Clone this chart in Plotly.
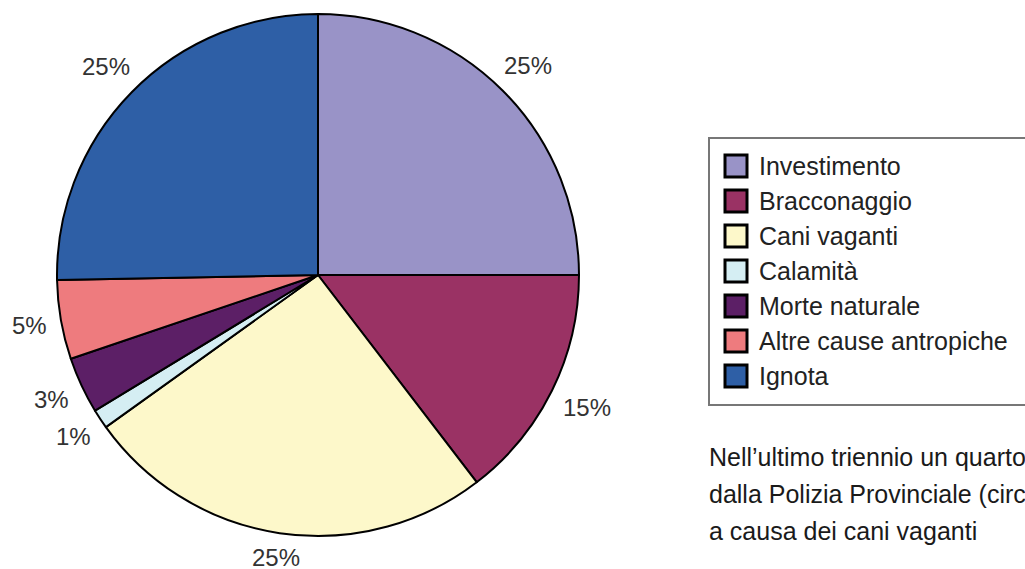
import math
import plotly.graph_objects as go

# ---- data ----
categories = ["Investimento", "Bracconaggio", "Cani vaganti", "Calamità",
              "Morte naturale", "Altre cause antropiche", "Ignota"]
values = [25.0, 14.6, 25.5, 1.2, 3.5, 4.9, 25.3]
pct_labels = ["25%", "15%", "25%", "1%", "3%", "5%", "25%"]
colors = ["#9993C7", "#9A3264", "#FDF8CA", "#D5EEF3", "#5C1F66", "#EE7B7E", "#2E5FA6"]
note_lines = ["Nell’ultimo triennio un quarto",
              "dalla Polizia Provinciale (circa",
              "a causa dei cani vaganti"]

# ---- layout constants (pixels) ----
W, H = 1025, 569
CX, CY, R = 318, 275, 261
LABEL_GAP = 14
LABEL_FONT = 24


def px(x):
    return x / W


def py(y):
    return 1 - y / H


fig = go.Figure(go.Pie(
    labels=categories, values=values, sort=False,
    direction="clockwise", rotation=0,
    marker=dict(colors=colors, line=dict(color="black", width=2)),
    textinfo="none", hoverinfo="label+percent",
    domain=dict(x=[px(CX - R), px(CX + R)], y=[py(CY + R), py(CY - R)]),
    showlegend=False,
))

annotations = []
shapes = []

# percent labels placed outside each slice along its mid-angle
total = sum(values)
cum = 0.0
for v, lab in zip(values, pct_labels):
    mid = (cum + v / 2) / total * 2 * math.pi
    cum += v
    s, c = math.sin(mid), math.cos(mid)
    half_w = 0.5 * LABEL_FONT * (0.556 * (len(lab) - 1) + 0.889)
    half_h = 7
    dist = R + LABEL_GAP + half_w * abs(s) + half_h * abs(c)
    x = CX + dist * s
    y = CY - dist * c
    annotations.append(dict(x=px(x), y=py(y), xref="paper", yref="paper",
                            text=lab, showarrow=False, xanchor="center", yanchor="middle",
                            font=dict(family="Liberation Sans, Arial", size=LABEL_FONT,
                                      color="#333333")))

# legend drawn as boxed list
LEG_LEFT, LEG_TOP, LEG_BOTTOM = 709, 138, 405
ITEM_Y0, ITEM_DY = 166, 35
SQ_X, SQ = 725, 22
shapes.append(dict(type="rect", xref="paper", yref="paper",
                   x0=px(LEG_LEFT), x1=px(1060), y0=py(LEG_BOTTOM), y1=py(LEG_TOP),
                   line=dict(color="#777777", width=2), fillcolor="rgba(0,0,0,0)"))
for i, (cat, col) in enumerate(zip(categories, colors)):
    yc = ITEM_Y0 + i * ITEM_DY
    shapes.append(dict(type="rect", xref="paper", yref="paper",
                       x0=px(SQ_X), x1=px(SQ_X + SQ), y0=py(yc + SQ / 2), y1=py(yc - SQ / 2),
                       line=dict(color="black", width=3), fillcolor=col))
    annotations.append(dict(x=px(SQ_X + SQ + 10), y=py(yc), xref="paper", yref="paper",
                            text=cat, showarrow=False, xanchor="left", yanchor="middle",
                            font=dict(family="Liberation Sans, Arial", size=25, color="#222222")))

# note below legend
for i, line in enumerate(note_lines):
    annotations.append(dict(x=px(LEG_LEFT - 2), y=py(457 + i * 37), xref="paper", yref="paper",
                            text=line, showarrow=False, xanchor="left", yanchor="middle",
                            font=dict(family="Liberation Sans, Arial", size=25, color="#1a1a1a")))

fig.update_layout(
    width=W, height=H,
    margin=dict(l=0, r=0, t=0, b=0),
    paper_bgcolor="white", plot_bgcolor="white",
    showlegend=False,
    annotations=annotations,
    shapes=shapes,
)

fig.write_html("out.html")
